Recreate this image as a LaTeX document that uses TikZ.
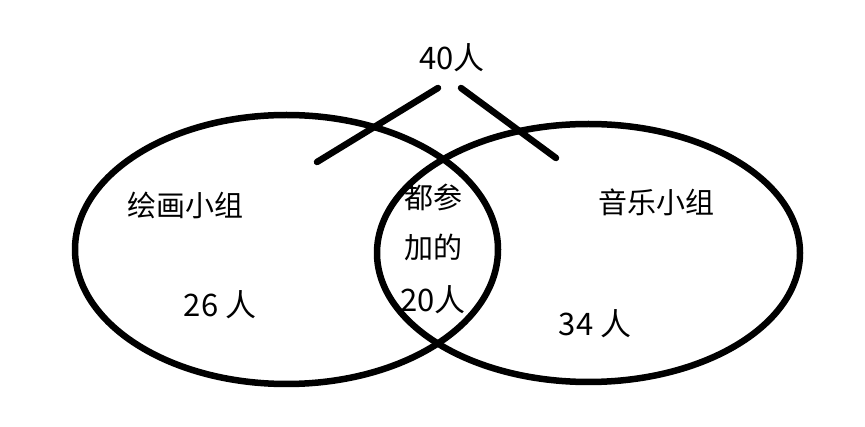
\documentclass[tikz,border=0pt]{standalone}
\usepackage{fontspec}
\newfontfamily\cjk{Noto Sans CJK SC}
\usetikzlibrary{shapes.geometric, positioning}
\tikzset{
  ring/.style  = {ellipse, draw=black, line width=6.5pt, inner sep=0pt},
  lbl/.style   = {font=\cjk\fontsize{29}{32}\selectfont, inner sep=0pt, align=center},
  num/.style   = {font=\cjk\fontsize{31}{34}\selectfont, inner sep=0pt},
  stroke/.style= {line width=6.5pt, line cap=round, draw=black}
}
\begin{document}
\begin{tikzpicture}[x=1pt, y=-1pt]
  \useasboundingbox (0,0) rectangle (865,427);
  \node[ring, minimum width=423pt, minimum height=269pt] (paint) at (286.5,249.5) {};
  \node[ring, minimum width=423pt, minimum height=258pt] (music) at (588.5,253) {};
  \node[num] (total) at (452,58) {40人};
  \coordinate (la) at (438,88);  \coordinate (lb) at (317,162);
  \coordinate (ra) at (461,88);  \coordinate (rb) at (556,158);
  \draw[stroke] (la) -- (lb);
  \draw[stroke] (ra) -- (rb);
  \node[lbl] (pname) at (185,205) {绘画小组};
  \node[num] (pcount) at (220,305) {26 人};
  \node[lbl] (both) at (433,197) {都参};
  \node[lbl] (both2) at (433,247) {加的};
  \node[num] (bcount) at (433,300) {20人};
  \node[lbl] (mname) at (656,202) {音乐小组};
  \node[num] (mcount) at (595,324) {34 人};
\end{tikzpicture}
\end{document}
